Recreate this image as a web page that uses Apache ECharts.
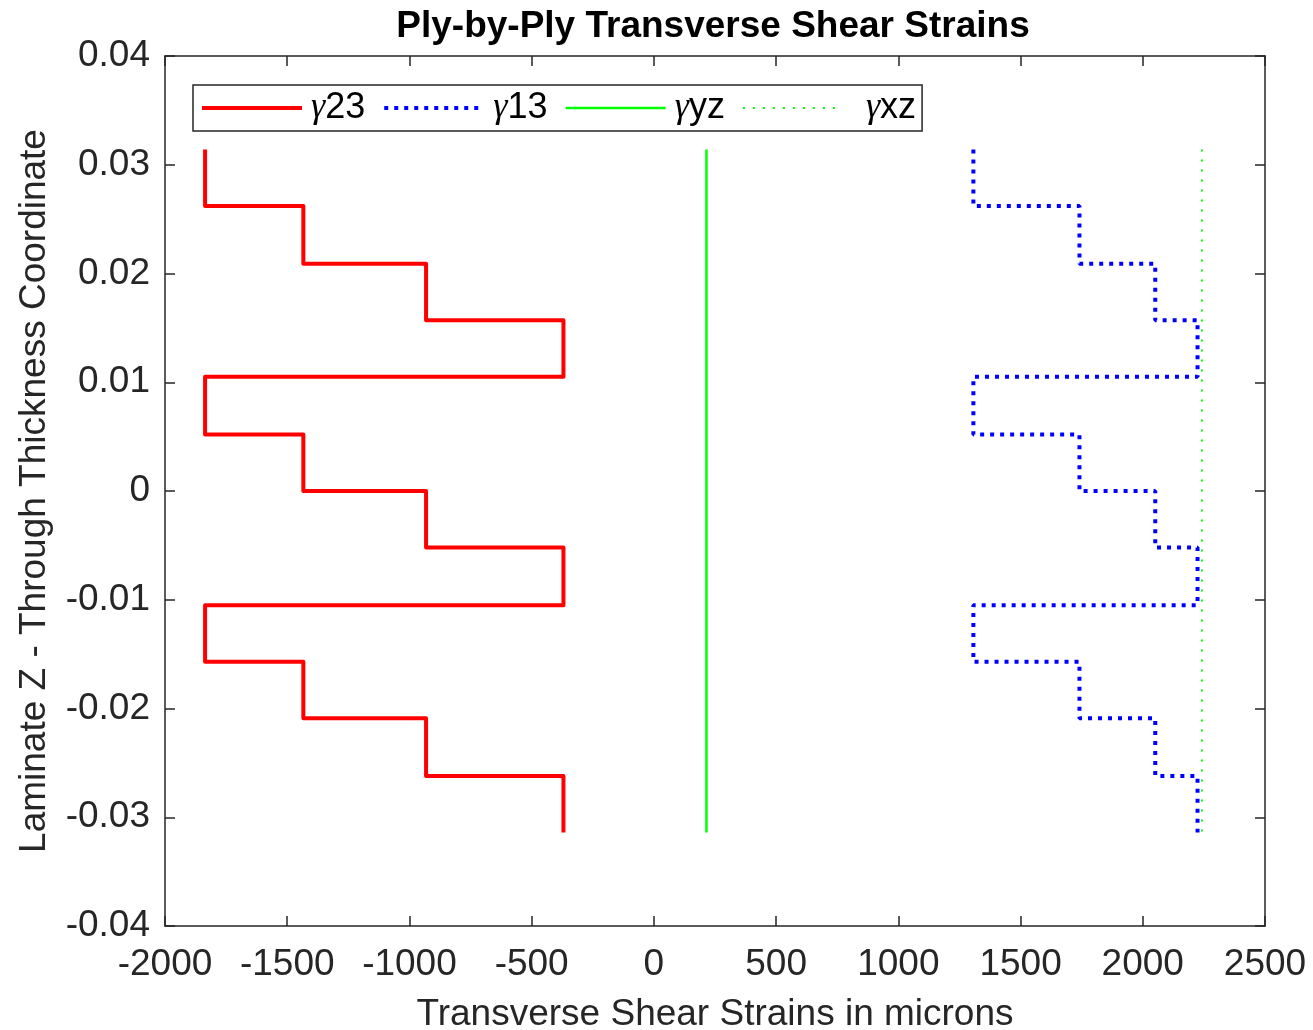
<!DOCTYPE html>
<html>
<head>
<meta charset="utf-8">
<title>Ply-by-Ply Transverse Shear Strains</title>
<script src="https://cdn.jsdelivr.net/npm/echarts@6/dist/echarts.min.js"></script>
<style>
  html, body { margin: 0; padding: 0; background: #fff; }
  #chart { width: 1313px; height: 1030px; }
</style>
</head>
<body>
<div id="chart"></div>
<script>
// ply boundaries (z, top to bottom) - 12 plies
var plyZ = [0.0314, 0.0262, 0.0209, 0.0157, 0.0105, 0.0052, 0,
  -0.0052, -0.0105, -0.0157, -0.0209, -0.0262, -0.0314];
// strain per ply, microns
var gamma23 = [-1836, -1434, -932, -370, -1836, -1434, -932, -370, -1836, -1434, -932, -370];
var gamma13 = [1307, 1741, 2051, 2224, 1307, 1741, 2051, 2224, 1307, 1741, 2051, 2224];
var gammaYZ = [215, 215, 215, 215, 215, 215, 215, 215, 215, 215, 215, 215];
var gammaXZ = [2242, 2242, 2242, 2242, 2242, 2242, 2242, 2242, 2242, 2242, 2242, 2242];
var seriesNames = ["γ23", "γ13", "γyz", "γxz"];

var xMin = -2000, xMax = 2500, xStep = 500;
var yMin = -0.04, yMax = 0.04, yStep = 0.01;

var axisColor = "#262626";
var font = "'Liberation Sans', Arial, Helvetica, sans-serif";

// line looks, same order as seriesNames
var lineStyles = [
  { color: "#ff0000", width: 4, join: "round" },
  { color: "#0000ff", width: 4, type: [4, 6], cap: "butt" },
  { color: "#00ff00", width: 2.5 },
  { color: "#00ff00", width: 2, type: [2, 8] }
];
var seriesData = [gamma23, gamma13, gammaYZ, gammaXZ];

// each ply: value at top and bottom of the ply
function plyPoints(vals) {
  var pts = [];
  for (var i = 0; i < vals.length; i++) {
    pts.push([vals[i], plyZ[i]]);
    pts.push([vals[i], plyZ[i + 1]]);
  }
  return pts;
}

function boxAxis(pos, isX, main) {
  var ax = {
    type: "value",
    position: pos,
    min: isX ? xMin : yMin,
    max: isX ? xMax : yMax,
    interval: isX ? xStep : yStep,
    axisLine: { show: true, onZero: false, lineStyle: { color: axisColor, width: 1.5 } },
    axisTick: { show: true, inside: true, length: 10, lineStyle: { color: axisColor, width: 1.5 } },
    splitLine: { show: false },
    axisLabel: { show: false }
  };
  if (main) {
    ax.axisLabel = {
      show: true,
      color: axisColor,
      fontSize: 37,
      fontFamily: font,
      margin: isX ? 20 : 15,
      formatter: function (v) {
        return String(+v.toFixed(4));
      }
    };
    ax.nameLocation = "middle";
    ax.nameTextStyle = { color: axisColor, fontSize: 37, fontFamily: font };
    if (isX) {
      ax.name = "Transverse Shear Strains in microns";
      ax.nameGap = 70;
    } else {
      ax.name = "Laminate Z - Through Thickness Coordinate";
      ax.nameGap = 112;
    }
  }
  return ax;
}

var series = seriesNames.map(function (name, i) {
  return {
    name: name,
    type: "line",
    symbol: "none",
    data: plyPoints(seriesData[i]),
    lineStyle: lineStyles[i],
    itemStyle: { color: lineStyles[i].color }
  };
});

var legendData = seriesNames.map(function (name, i) {
  return { name: name, lineStyle: lineStyles[i] };
});

var myChart = echarts.init(document.getElementById("chart"));
myChart.setOption({
  animation: false,
  backgroundColor: "#fff",
  title: {
    text: "Ply-by-Ply Transverse Shear Strains",
    left: 713,
    top: 8,
    padding: 0,
    textAlign: "center",
    textStyle: { fontSize: 37, fontWeight: "bold", color: "#000", fontFamily: font }
  },
  grid: { left: 165, right: 48, top: 56, bottom: 104, outerBoundsMode: "none" },
  legend: {
    left: 193,
    top: 85,
    orient: "horizontal",
    backgroundColor: "#fff",
    borderColor: axisColor,
    borderWidth: 1.5,
    padding: [5, 6, 5, 7],
    itemWidth: 100,
    itemHeight: 20,
    itemGap: 17,
    // hide the marker dot, keep the line sample
    itemStyle: { opacity: 0 },
    data: legendData,
    textStyle: {
      color: "#000",
      fontSize: 36,
      fontFamily: font,
      rich: {
        g: { fontFamily: "'Liberation Serif', 'DejaVu Serif', serif", fontSize: 36, fontStyle: "italic", color: "#000" },
        sp: { width: 4 },
        sp2: { width: 18 }
      }
    },
    formatter: function (name) {
      var pre = name === "γxz" ? "{sp2|}" : "{sp|}";
      return pre + "{g|γ}" + name.slice(1);
    }
  },
  xAxis: [boxAxis("bottom", true, true), boxAxis("top", true, false)],
  yAxis: [boxAxis("left", false, true), boxAxis("right", false, false)],
  series: series
});
</script>
</body>
</html>
